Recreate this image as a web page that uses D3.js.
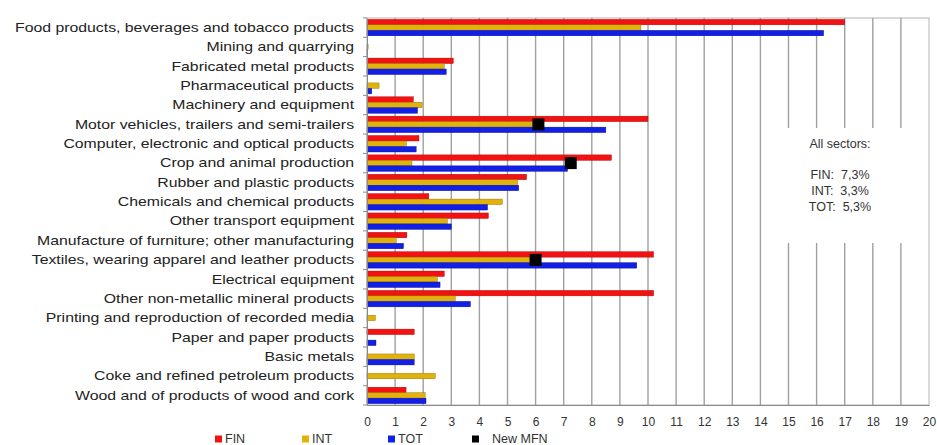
<!DOCTYPE html>
<html><head><meta charset="utf-8">
<script src="https://cdn.jsdelivr.net/npm/d3@7"></script>
<style>body{margin:0;background:#fff}svg{display:block}text{font-family:"Liberation Sans",Arial,sans-serif}</style>
</head><body><svg id="c" width="937" height="445"></svg>
<script>
const categories = ["Food products, beverages and tobacco products","Mining and quarrying","Fabricated metal products","Pharmaceutical products","Machinery and equipment","Motor vehicles, trailers and semi-trailers","Computer, electronic and optical products","Crop and animal production","Rubber and plastic products","Chemicals and chemical products","Other transport equipment","Manufacture of furniture; other manufacturing","Textiles, wearing apparel and leather products","Electrical equipment","Other non-metallic mineral products","Printing and reproduction of recorded media","Paper and paper products","Basic metals","Coke and refined petroleum products","Wood and of products of wood and cork"];
const FIN = [17.0,0.0,3.07,0.0,1.65,10.0,1.85,8.7,5.68,2.2,4.32,1.42,10.2,2.75,10.2,0.0,1.68,0.0,0.0,1.39];
const INT = [9.75,0.04,2.75,0.43,1.96,5.9,1.4,1.6,5.36,4.82,2.86,1.04,5.8,2.5,3.14,0.3,0.0,1.68,2.43,2.07];
const TOT = [16.25,0.02,2.82,0.17,1.8,8.5,1.75,7.14,5.4,4.29,3.0,1.3,9.6,2.6,3.68,0.0,0.32,1.68,0.0,2.1];
const newMFN = [null,null,null,null,null,6.1,null,7.25,null,null,null,null,6.0,null,null,null,null,null,null,null];
const xTicks = d3.range(0,21);
const seriesNames = ["FIN","INT","TOT"];
const seriesColors = ["#f21212","#e2b20c","#1220e6"];
const seriesStroke = ["#a00","#8a6a00","#000a90"];
const summaryLines = ["All sectors:","","FIN:  7,3%","INT:  3,3%","TOT:  5,3%"];

const svg = d3.select("#c");
const L = 367, R = 929, T = 18, B = 405;
const x = d3.scaleLinear().domain([0,20]).range([L,R]);
const y = d3.scaleBand().domain(categories).range([T,B]).paddingInner(0.15).paddingOuter(0.07);
const ys = d3.scaleBand().domain(seriesNames).range([0,y.bandwidth()]);

// plot border
svg.append("rect").attr("x",L).attr("y",T).attr("width",R-L).attr("height",B-T)
  .attr("fill","none").attr("stroke","#b4b4b4").attr("stroke-width",1);
// gridlines
svg.append("g").selectAll("line").data(xTicks.filter(d=>d>0&&d<20)).join("line")
  .attr("x1",d=>x(d)).attr("x2",d=>x(d)).attr("y1",T).attr("y2",B)
  .attr("stroke","#a0a0a0").attr("stroke-width",1.4);

// summary box
svg.append("rect").attr("x",765).attr("y",128).attr("width",160).attr("height",115).attr("fill","#fff");
const st = svg.append("text").attr("x",840).attr("y",148).attr("text-anchor","middle")
  .attr("font-size",12.5).attr("fill","#333");
const lineY = [0,17,31,47,63];
summaryLines.forEach((s,i)=>{ if(s) st.append("tspan").attr("x",840).attr("y",148+lineY[i]).attr("xml:space","preserve").text(s); });

// bars
const data = [FIN,INT,TOT];
categories.forEach((c,i)=>{
  seriesNames.forEach((s,k)=>{
    const v = data[k][i];
    if(v>0) svg.append("rect").attr("x",x(0)).attr("y",y(c)+ys(s)).attr("width",x(v)-x(0)).attr("height",ys.bandwidth())
      .attr("fill",seriesColors[k]).attr("stroke",seriesStroke[k]).attr("stroke-width",0.4);
  });
  if(newMFN[i]!=null){
    const cy = y(c)+ys("INT")+ys.bandwidth()/2;
    svg.append("rect").attr("x",x(newMFN[i])-6).attr("y",cy-6).attr("width",12).attr("height",12).attr("fill","#000");
  }
});

// y axis
const ya = d3.axisLeft(y).tickSize(0).tickPadding(11);
const yg = svg.append("g").attr("transform",`translate(${L},0)`).call(ya);
yg.select(".domain").attr("stroke","#8a8a8a");
yg.selectAll("text").attr("font-size",13.4).attr("fill","#222").attr("font-family","Liberation Sans, Arial, sans-serif")
  .attr("transform","scale(1.18,1)");
// band boundary ticks
const bounds = categories.map(c=>y(c)-y.step()*y.paddingInner()/2).concat([B]);
svg.append("g").selectAll("line").data(bounds).join("line")
  .attr("x1",L-4).attr("x2",L).attr("y1",d=>d).attr("y2",d=>d).attr("stroke","#8a8a8a");

// x axis
const xa = d3.axisBottom(x).tickValues(xTicks).tickSize(0).tickPadding(12).tickFormat(d3.format("d"));
const xg = svg.append("g").attr("transform",`translate(0,${B})`).call(xa);
xg.select(".domain").attr("stroke","#8a8a8a");
xg.selectAll("text").attr("font-size",12).attr("fill","#333").attr("font-family","Liberation Sans, Arial, sans-serif");

// legend
const legend = [{n:"FIN",c:seriesColors[0],x:215},{n:"INT",c:seriesColors[1],x:302},{n:"TOT",c:seriesColors[2],x:388},{n:"New MFN",c:"#000",x:472}];
const lg = svg.append("g");
legend.forEach((d,i)=>{
  lg.append("rect").attr("x",d.x).attr("y",435.5).attr("width",7).attr("height",7).attr("fill",d.c);
  lg.append("text").attr("x",d.x+(i===3?20:10)).attr("y",443).attr("font-size",12.5).attr("fill","#333").text(d.n);
});
</script></body></html>
